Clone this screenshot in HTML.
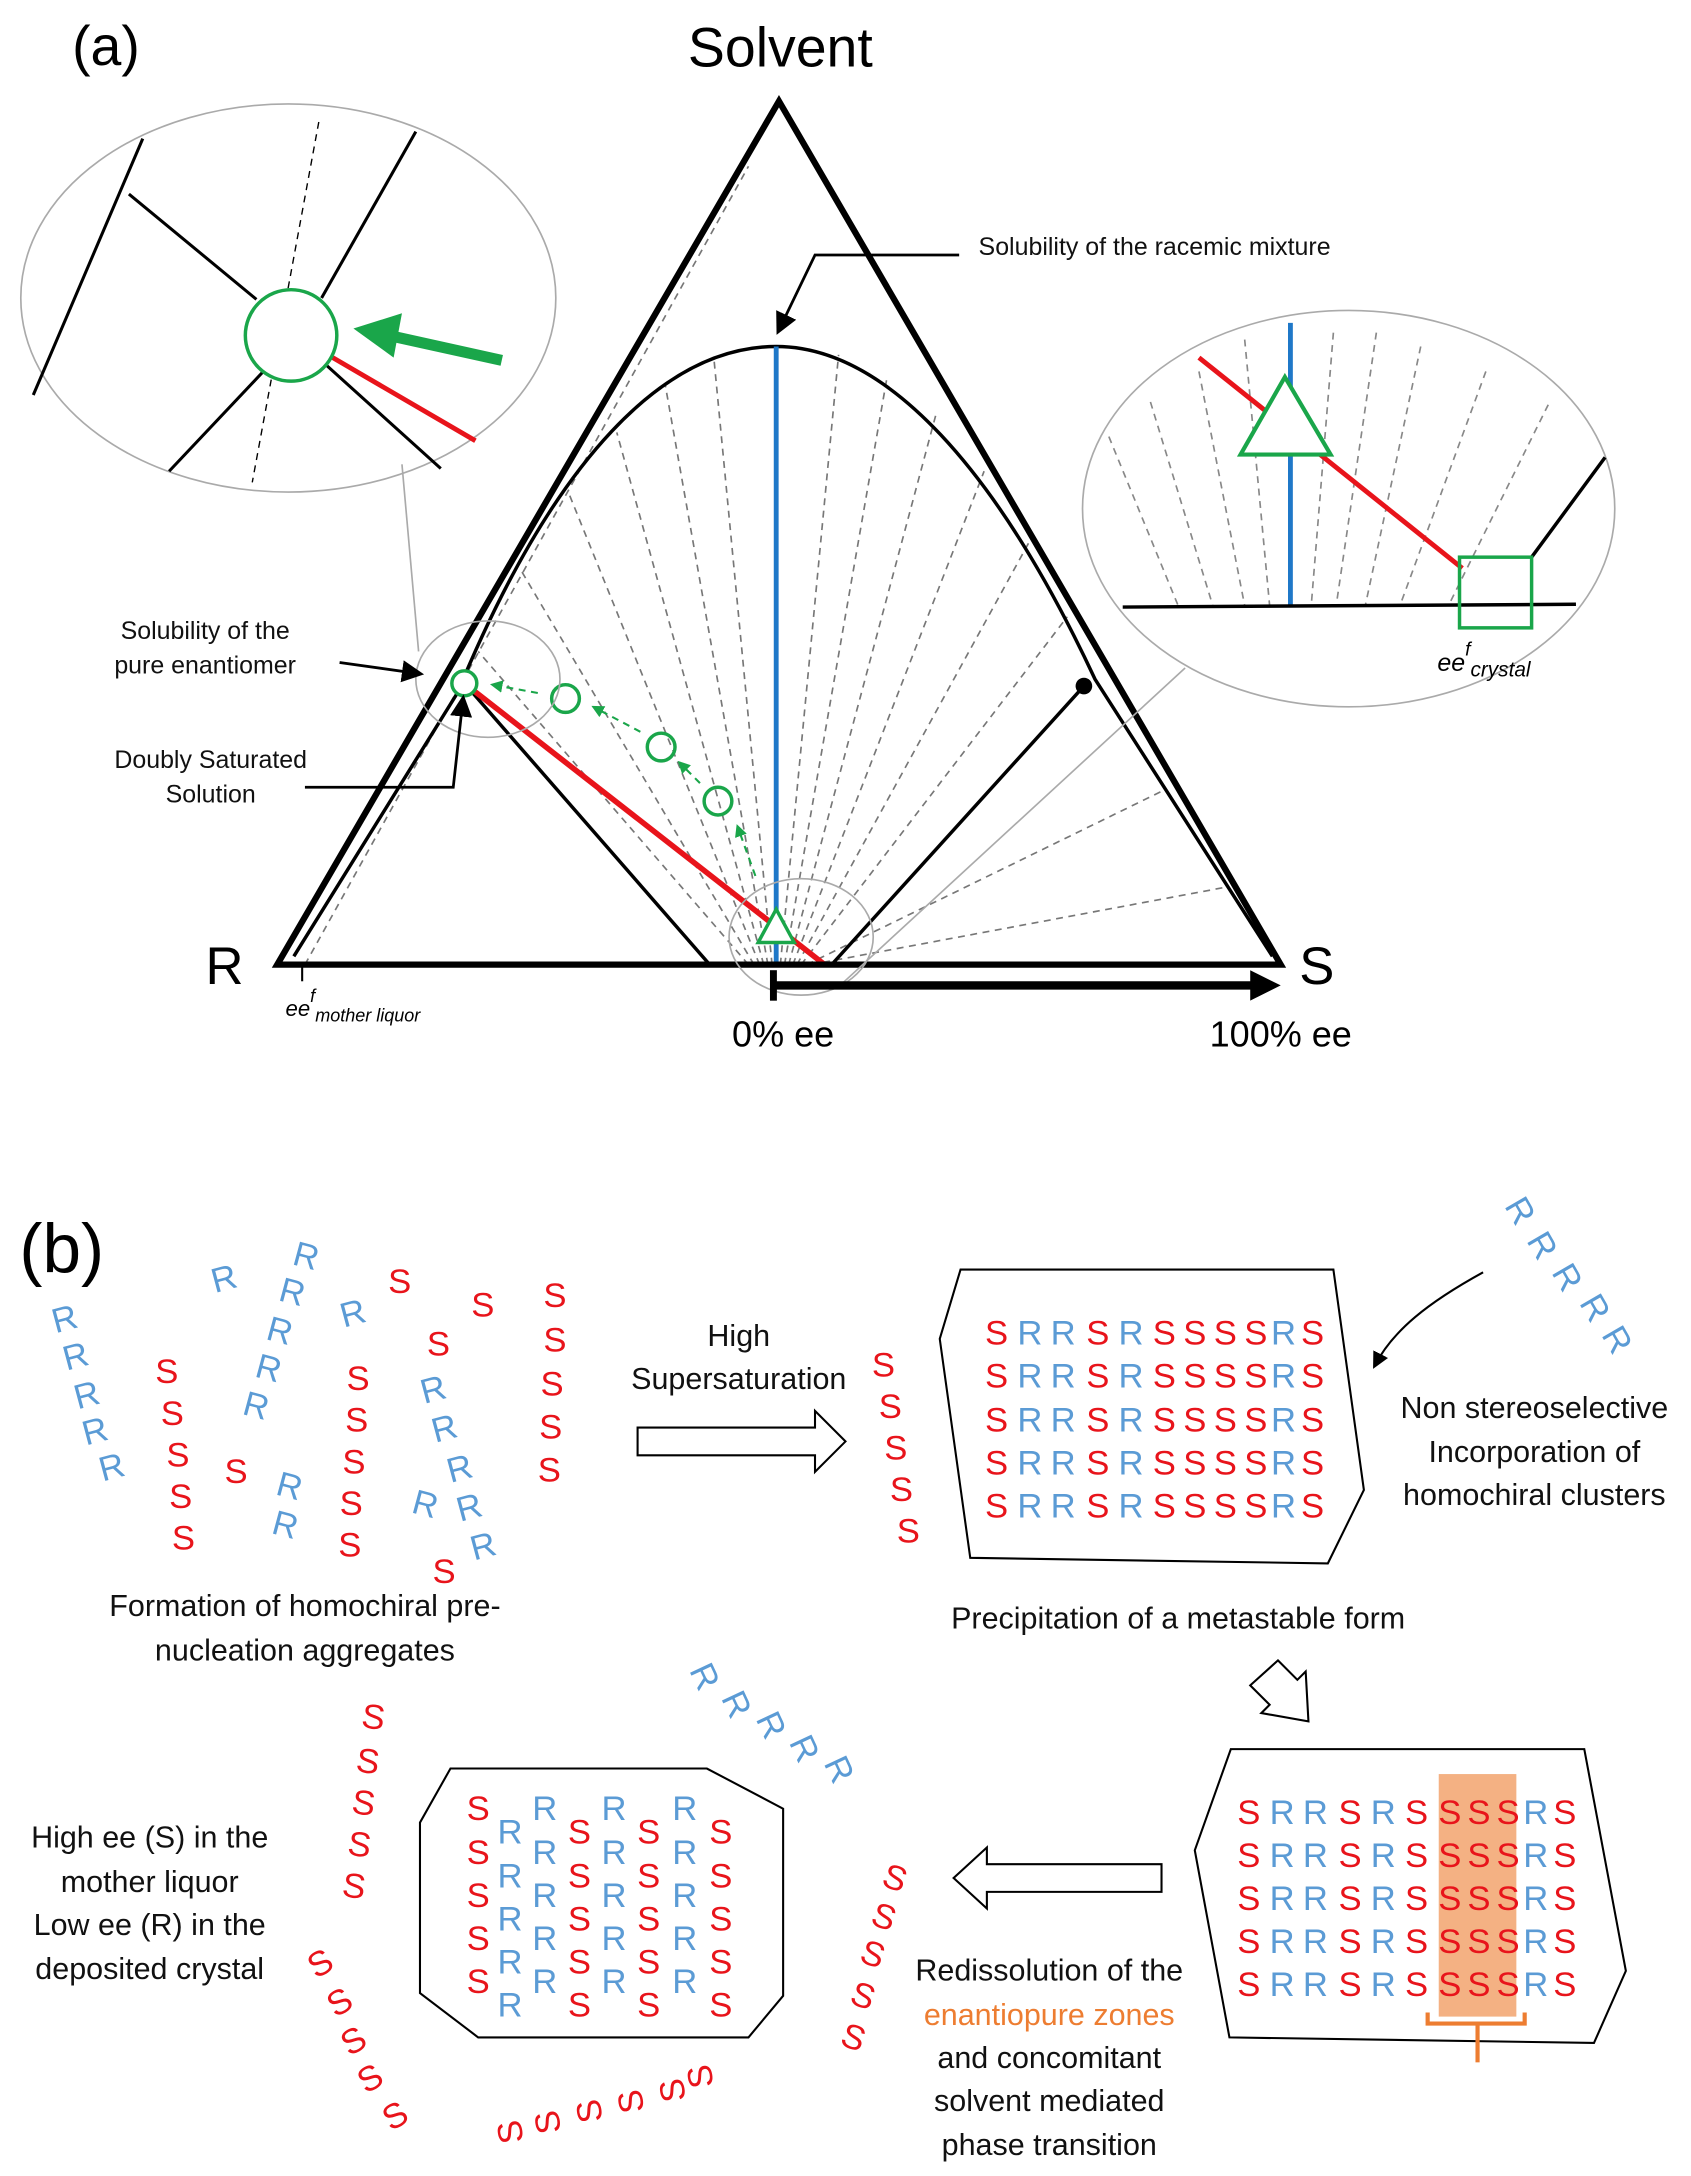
<!DOCTYPE html>
<html><head><meta charset="utf-8"><style>
html,body{margin:0;padding:0;background:#fff;}
svg{display:block}
text{font-family:"Liberation Sans",sans-serif;}
.S{fill:#e8141b;font-size:25px}
.R{fill:#5b9bd5;font-size:25px}
.t{font-size:22px;fill:#111;text-anchor:middle}
.s{font-size:18px;fill:#111}
</style></head><body>
<svg width="1691" height="2176" viewBox="0 0 1220 1570" preserveAspectRatio="none" xmlns="http://www.w3.org/2000/svg">
<defs>
<marker id="ah" markerWidth="8" markerHeight="8" refX="6" refY="4" orient="auto" markerUnits="strokeWidth"><path d="M0,0 L8,4 L0,8 z" fill="#000"/></marker>
<marker id="ahg" markerWidth="6" markerHeight="6" refX="5" refY="3" orient="auto" markerUnits="strokeWidth"><path d="M0,0 L6,3 L0,6 z" fill="#1aa64a"/></marker>
</defs>
<text x="52" y="47" font-size="40">(a)</text>
<text x="563" y="48" font-size="40" text-anchor="middle">Solvent</text>
<g stroke="#777" stroke-width="1.2" stroke-dasharray="5,4" fill="none">
<line x1="540" y1="696" x2="345" y2="470"/><line x1="544" y1="696" x2="375" y2="410"/>
<line x1="548" y1="696" x2="410" y2="355"/><line x1="551" y1="696" x2="445" y2="312"/>
<line x1="554" y1="696" x2="480" y2="278"/><line x1="557" y1="696" x2="515" y2="258"/>
<line x1="563" y1="696" x2="605" y2="256"/><line x1="566" y1="696" x2="640" y2="272"/>
<line x1="569" y1="696" x2="675" y2="300"/><line x1="572" y1="696" x2="710" y2="340"/>
<line x1="575" y1="696" x2="742" y2="392"/><line x1="578" y1="696" x2="770" y2="445"/>
<line x1="582" y1="696" x2="840" y2="570"/><line x1="585" y1="696" x2="885" y2="640"/>
<line x1="220" y1="696" x2="540" y2="120"/>
</g>
<path d="M212 690 L330 500 C400 330 480 250 560 250 C640 250 720 340 790 490 L918 690" fill="none" stroke="#000" stroke-width="2.5"/>
<line x1="335" y1="493" x2="512" y2="696" stroke="#000" stroke-width="2.5"/>
<line x1="782" y1="495" x2="600" y2="696" stroke="#000" stroke-width="2.5"/>
<circle cx="782" cy="495" r="6" fill="#000"/>
<line x1="560" y1="250" x2="560" y2="696" stroke="#1f78c8" stroke-width="3.5"/>
<line x1="335" y1="493" x2="595" y2="696" stroke="#e8141b" stroke-width="4"/>
<path d="M562 73 L200 696 L924 696 Z" fill="none" stroke="#000" stroke-width="4.5"/>
<line x1="218" y1="696" x2="218" y2="708" stroke="#000" stroke-width="1.5"/>
<g fill="none" stroke="#1aa64a" stroke-width="2.5">
<circle cx="335" cy="493" r="9" fill="#fff"/><circle cx="408" cy="504" r="10"/><circle cx="477" cy="539" r="10"/><circle cx="518" cy="578" r="10"/>
<path d="M547 680 L560 656 L573 680 Z" fill="#fff"/>
</g>
<g stroke="#1aa64a" stroke-width="1.5" stroke-dasharray="5,4" fill="none">
<line x1="388" y1="500" x2="355" y2="494" marker-end="url(#ahg)"/>
<line x1="462" y1="528" x2="428" y2="510" marker-end="url(#ahg)"/>
<line x1="505" y1="565" x2="490" y2="550" marker-end="url(#ahg)"/>
<line x1="545" y1="632" x2="532" y2="596" marker-end="url(#ahg)"/>
</g>
<g fill="none" stroke="#aaa" stroke-width="1.2">
<ellipse cx="352" cy="490" rx="52" ry="42"/>
<ellipse cx="578" cy="676" rx="52" ry="42"/>
<line x1="302" y1="470" x2="290" y2="335"/>
<line x1="605" y1="712" x2="855" y2="482"/>
<ellipse cx="208" cy="215" rx="193" ry="140"/>
<ellipse cx="973" cy="367" rx="192" ry="143"/>
</g>
<line x1="558" y1="700" x2="558" y2="722" stroke="#000" stroke-width="5"/>
<line x1="558" y1="711" x2="905" y2="711" stroke="#000" stroke-width="6"/>
<path d="M902 700 L924 711 L902 722 Z" fill="#000"/>
<text x="162" y="710" font-size="38" text-anchor="middle">R</text>
<text x="950" y="710" font-size="38" text-anchor="middle">S</text>
<text x="565" y="755" font-size="26" text-anchor="middle">0% ee</text>
<text x="924" y="755" font-size="26" text-anchor="middle">100% ee</text>
<text x="206" y="733" font-size="16" font-family="Liberation Serif" font-style="italic">ee<tspan dy="-10" font-size="13">f</tspan><tspan dy="14" font-size="13">mother liquor</tspan></text>
<text x="706" y="184" class="s">Solubility of the racemic mixture</text>
<polyline points="692,184 588,184 562,238" fill="none" stroke="#000" stroke-width="2" marker-end="url(#ah)"/>
<text x="148" y="461" class="s" text-anchor="middle">Solubility of the</text>
<text x="148" y="486" class="s" text-anchor="middle">pure enantiomer</text>
<line x1="245" y1="478" x2="302" y2="486" stroke="#000" stroke-width="2" marker-end="url(#ah)"/>
<text x="152" y="554" class="s" text-anchor="middle">Doubly Saturated</text>
<text x="152" y="579" class="s" text-anchor="middle">Solution</text>
<polyline points="220,568 327,568 334,505" fill="none" stroke="#000" stroke-width="2" marker-end="url(#ah)"/>
<g stroke="#000" stroke-width="2.2" fill="none">
<line x1="103" y1="100" x2="24" y2="285"/>
<line x1="93" y1="140" x2="185" y2="216"/>
<line x1="300" y1="95" x2="232" y2="215"/>
<line x1="190" y1="268" x2="122" y2="340"/>
<line x1="236" y1="264" x2="318" y2="338"/>
</g>
<line x1="230" y1="88" x2="182" y2="348" stroke="#000" stroke-width="1" stroke-dasharray="5,4"/>
<line x1="240" y1="258" x2="343" y2="318" stroke="#e8141b" stroke-width="3.5"/>
<circle cx="210" cy="242" r="33" fill="#fff" stroke="#1aa64a" stroke-width="2.5"/>
<line x1="362" y1="260" x2="285" y2="243" stroke="#1aa64a" stroke-width="8"/>
<path d="M255 237 L290 226 L284 258 Z" fill="#1aa64a"/>
<g stroke="#888" stroke-width="1.2" stroke-dasharray="5,4">
<line x1="800" y1="315" x2="850" y2="437"/><line x1="830" y1="290" x2="875" y2="437"/>
<line x1="865" y1="268" x2="898" y2="437"/><line x1="898" y1="245" x2="916" y2="437"/>
<line x1="962" y1="240" x2="946" y2="437"/><line x1="993" y1="240" x2="964" y2="437"/>
<line x1="1025" y1="250" x2="985" y2="437"/><line x1="1072" y1="268" x2="1010" y2="437"/>
<line x1="1117" y1="292" x2="1045" y2="437"/>
</g>
<line x1="931" y1="233" x2="931" y2="437" stroke="#1f78c8" stroke-width="3.5"/>
<line x1="865" y1="258" x2="1055" y2="410" stroke="#e8141b" stroke-width="3.5"/>
<line x1="810" y1="438" x2="1137" y2="436" stroke="#000" stroke-width="2.5"/>
<line x1="1105" y1="402" x2="1158" y2="330" stroke="#000" stroke-width="2.5"/>
<path d="M927 272 L895 328 L960 328 Z" fill="#fff" stroke="#1aa64a" stroke-width="3"/>
<rect x="1053" y="402" width="52" height="51" fill="none" stroke="#1aa64a" stroke-width="2.5"/>
<text x="1037" y="484" font-size="18" font-family="Liberation Serif" font-style="italic">ee<tspan dy="-11" font-size="14">f</tspan><tspan dy="15" font-size="15">crystal</tspan></text>

<text x="14" y="918" font-size="50">(b)</text>
<g class="R">
<text transform="translate(40,962) rotate(-15)">R</text><text transform="translate(48,989) rotate(-15)">R</text><text transform="translate(56,1017) rotate(-15)">R</text><text transform="translate(62,1043) rotate(-15)">R</text><text transform="translate(74,1069) rotate(-15)">R</text>
<text transform="translate(210,912) rotate(15)">R</text><text transform="translate(200,938) rotate(15)">R</text><text transform="translate(191,966) rotate(15)">R</text><text transform="translate(183,993) rotate(15)">R</text><text transform="translate(174,1020) rotate(15)">R</text>
<text transform="translate(155,933) rotate(-15)">R</text><text transform="translate(248,958) rotate(-15)">R</text>
<text transform="translate(198,1078) rotate(15)">R</text><text transform="translate(195,1106) rotate(15)">R</text>
<text transform="translate(306,1013) rotate(-15)">R</text><text transform="translate(314,1041) rotate(-15)">R</text><text transform="translate(325,1070) rotate(-15)">R</text><text transform="translate(332,1098) rotate(-15)">R</text><text transform="translate(342,1126) rotate(-15)">R</text>
<text transform="translate(296,1091) rotate(15)">R</text>
<text transform="translate(1085,870) rotate(60)">R</text><text transform="translate(1101,895) rotate(60)">R</text><text transform="translate(1119,918) rotate(60)">R</text><text transform="translate(1139,940) rotate(60)">R</text><text transform="translate(1155,963) rotate(60)">R</text>
<text transform="translate(497,1205) rotate(65)">R</text><text transform="translate(520,1225) rotate(65)">R</text><text transform="translate(545,1240) rotate(65)">R</text><text transform="translate(569,1257) rotate(65)">R</text><text transform="translate(594,1272) rotate(65)">R</text>
</g>
<g class="S">
<text x="112" y="998">S</text><text x="116" y="1028">S</text><text x="120" y="1058">S</text><text x="122" y="1088">S</text><text x="124" y="1118">S</text>
<text x="162" y="1070">S</text><text x="280" y="933">S</text><text x="340" y="950">S</text><text x="308" y="978">S</text>
<text x="250" y="1003">S</text><text x="249" y="1033">S</text><text x="247" y="1063">S</text><text x="245" y="1093">S</text><text x="244" y="1123">S</text>
<text x="312" y="1142">S</text>
<text x="392" y="943">S</text><text x="392" y="975">S</text><text x="390" y="1007">S</text><text x="389" y="1038">S</text><text x="388" y="1069">S</text>
<text x="629" y="993">S</text><text x="634" y="1023">S</text><text x="638" y="1053">S</text><text x="642" y="1083">S</text><text x="647" y="1113">S</text>
<text transform="translate(260,1246) rotate(8)">S</text><text transform="translate(256,1278) rotate(8)">S</text><text transform="translate(253,1308) rotate(8)">S</text><text transform="translate(250,1338) rotate(8)">S</text><text transform="translate(246,1368) rotate(8)">S</text>
<text transform="translate(228,1428) rotate(-30)">S</text><text transform="translate(242,1456) rotate(-30)">S</text><text transform="translate(252,1484) rotate(-30)">S</text><text transform="translate(264,1511) rotate(-30)">S</text><text transform="translate(282,1538) rotate(-30)">S</text>
<text transform="translate(378,1545) rotate(-100)">S</text><text transform="translate(405,1538) rotate(-100)">S</text><text transform="translate(435,1530) rotate(-100)">S</text><text transform="translate(465,1523) rotate(-100)">S</text><text transform="translate(495,1515) rotate(-100)">S</text><text transform="translate(515,1505) rotate(-100)">S</text>
<text transform="translate(635,1360) rotate(20)">S</text><text transform="translate(627,1388) rotate(20)">S</text><text transform="translate(619,1415) rotate(20)">S</text><text transform="translate(612,1445) rotate(20)">S</text><text transform="translate(605,1475) rotate(20)">S</text>
</g>
<!-- crystal 1 -->
<path d="M693 916 L962 916 L984 1075 L958 1128 L700 1124 L678 966 Z" fill="none" stroke="#000" stroke-width="1.5"/>
<g font-size="25" text-anchor="middle">
<g fill="#e8141b">
<text x="719" y="970">S</text><text x="792" y="970">S</text><text x="840" y="970">S</text><text x="862" y="970">S</text><text x="884" y="970">S</text><text x="906" y="970">S</text><text x="947" y="970">S</text>
<text x="719" y="1001">S</text><text x="792" y="1001">S</text><text x="840" y="1001">S</text><text x="862" y="1001">S</text><text x="884" y="1001">S</text><text x="906" y="1001">S</text><text x="947" y="1001">S</text>
<text x="719" y="1033">S</text><text x="792" y="1033">S</text><text x="840" y="1033">S</text><text x="862" y="1033">S</text><text x="884" y="1033">S</text><text x="906" y="1033">S</text><text x="947" y="1033">S</text>
<text x="719" y="1064">S</text><text x="792" y="1064">S</text><text x="840" y="1064">S</text><text x="862" y="1064">S</text><text x="884" y="1064">S</text><text x="906" y="1064">S</text><text x="947" y="1064">S</text>
<text x="719" y="1095">S</text><text x="792" y="1095">S</text><text x="840" y="1095">S</text><text x="862" y="1095">S</text><text x="884" y="1095">S</text><text x="906" y="1095">S</text><text x="947" y="1095">S</text>
</g>
<g fill="#5b9bd5">
<text x="743" y="970">R</text><text x="767" y="970">R</text><text x="816" y="970">R</text><text x="926" y="970">R</text>
<text x="743" y="1001">R</text><text x="767" y="1001">R</text><text x="816" y="1001">R</text><text x="926" y="1001">R</text>
<text x="743" y="1033">R</text><text x="767" y="1033">R</text><text x="816" y="1033">R</text><text x="926" y="1033">R</text>
<text x="743" y="1064">R</text><text x="767" y="1064">R</text><text x="816" y="1064">R</text><text x="926" y="1064">R</text>
<text x="743" y="1095">R</text><text x="767" y="1095">R</text><text x="816" y="1095">R</text><text x="926" y="1095">R</text>
</g></g>
<!-- crystal 2 -->
<path d="M888 1262 L1143 1262 L1173 1422 L1150 1474 L887 1470 L862 1335 Z" fill="none" stroke="#000" stroke-width="1.5"/>
<rect x="1038" y="1280" width="56" height="175" fill="#f4b183"/>
<polyline points="1030,1452 1030,1460 1100,1460 1100,1452" fill="none" stroke="#ed7d31" stroke-width="3"/>
<line x1="1066" y1="1460" x2="1066" y2="1488" stroke="#ed7d31" stroke-width="3"/>
<g font-size="25" text-anchor="middle">
<g fill="#e8141b">
<text x="901" y="1316">S</text><text x="974" y="1316">S</text><text x="1022" y="1316">S</text><text x="1046" y="1316">S</text><text x="1067" y="1316">S</text><text x="1088" y="1316">S</text><text x="1129" y="1316">S</text>
<text x="901" y="1347">S</text><text x="974" y="1347">S</text><text x="1022" y="1347">S</text><text x="1046" y="1347">S</text><text x="1067" y="1347">S</text><text x="1088" y="1347">S</text><text x="1129" y="1347">S</text>
<text x="901" y="1378">S</text><text x="974" y="1378">S</text><text x="1022" y="1378">S</text><text x="1046" y="1378">S</text><text x="1067" y="1378">S</text><text x="1088" y="1378">S</text><text x="1129" y="1378">S</text>
<text x="901" y="1409">S</text><text x="974" y="1409">S</text><text x="1022" y="1409">S</text><text x="1046" y="1409">S</text><text x="1067" y="1409">S</text><text x="1088" y="1409">S</text><text x="1129" y="1409">S</text>
<text x="901" y="1440">S</text><text x="974" y="1440">S</text><text x="1022" y="1440">S</text><text x="1046" y="1440">S</text><text x="1067" y="1440">S</text><text x="1088" y="1440">S</text><text x="1129" y="1440">S</text>
</g>
<g fill="#5b9bd5">
<text x="925" y="1316">R</text><text x="949" y="1316">R</text><text x="998" y="1316">R</text><text x="1108" y="1316">R</text>
<text x="925" y="1347">R</text><text x="949" y="1347">R</text><text x="998" y="1347">R</text><text x="1108" y="1347">R</text>
<text x="925" y="1378">R</text><text x="949" y="1378">R</text><text x="998" y="1378">R</text><text x="1108" y="1378">R</text>
<text x="925" y="1409">R</text><text x="949" y="1409">R</text><text x="998" y="1409">R</text><text x="1108" y="1409">R</text>
<text x="925" y="1440">R</text><text x="949" y="1440">R</text><text x="998" y="1440">R</text><text x="1108" y="1440">R</text>
</g></g>
<!-- crystal 3 -->
<path d="M325 1276 L510 1276 L565 1305 L565 1440 L540 1470 L345 1470 L303 1438 L303 1315 Z" fill="none" stroke="#000" stroke-width="1.5"/>
<g font-size="25" text-anchor="middle">
<g fill="#e8141b"><text x="345" y="1313">S</text><text x="345" y="1345">S</text><text x="345" y="1376">S</text><text x="345" y="1407">S</text><text x="345" y="1438">S</text>
<text x="418" y="1330">S</text><text x="418" y="1362">S</text><text x="418" y="1393">S</text><text x="418" y="1424">S</text><text x="418" y="1455">S</text>
<text x="468" y="1330">S</text><text x="468" y="1362">S</text><text x="468" y="1393">S</text><text x="468" y="1424">S</text><text x="468" y="1455">S</text>
<text x="520" y="1330">S</text><text x="520" y="1362">S</text><text x="520" y="1393">S</text><text x="520" y="1424">S</text><text x="520" y="1455">S</text></g>
<g fill="#5b9bd5"><text x="368" y="1330">R</text><text x="368" y="1362">R</text><text x="368" y="1393">R</text><text x="368" y="1424">R</text><text x="368" y="1455">R</text>
<text x="393" y="1313">R</text><text x="393" y="1345">R</text><text x="393" y="1376">R</text><text x="393" y="1407">R</text><text x="393" y="1438">R</text>
<text x="443" y="1313">R</text><text x="443" y="1345">R</text><text x="443" y="1376">R</text><text x="443" y="1407">R</text><text x="443" y="1438">R</text>
<text x="494" y="1313">R</text><text x="494" y="1345">R</text><text x="494" y="1376">R</text><text x="494" y="1407">R</text><text x="494" y="1438">R</text></g>
</g>
<path d="M460 1030 L588 1030 L588 1018 L610 1040 L588 1062 L588 1050 L460 1050 Z" fill="#fff" stroke="#000" stroke-width="1.5"/>
<path d="M838 1345 L712 1345 L712 1333 L688 1355 L712 1377 L712 1365 L838 1365 Z" fill="#fff" stroke="#000" stroke-width="1.5"/>
<path d="M922 1198 L936 1212 L942 1206 L944 1242 L910 1236 L916 1230 L902 1216 Z" fill="#fff" stroke="#000" stroke-width="1.5"/>
<path d="M1070 918 C1030 940 1005 960 992 985" fill="none" stroke="#000" stroke-width="1.5" marker-end="url(#ah)"/>
<text class="t" x="533" y="971">High</text>
<text class="t" x="533" y="1002">Supersaturation</text>
<text class="t" x="1107" y="1023">Non stereoselective</text>
<text class="t" x="1107" y="1055">Incorporation of</text>
<text class="t" x="1107" y="1086">homochiral clusters</text>
<text class="t" x="220" y="1166">Formation of homochiral pre-</text>
<text class="t" x="220" y="1198">nucleation aggregates</text>
<text class="t" x="850" y="1175">Precipitation of a metastable form</text>
<text class="t" x="108" y="1333">High ee (S) in the</text>
<text class="t" x="108" y="1365">mother liquor</text>
<text class="t" x="108" y="1396">Low ee (R) in the</text>
<text class="t" x="108" y="1428">deposited crystal</text>
<text class="t" x="757" y="1429">Redissolution of the</text>
<text class="t" x="757" y="1461" style="fill:#ed7d31">enantiopure zones</text>
<text class="t" x="757" y="1492">and concomitant</text>
<text class="t" x="757" y="1523">solvent mediated</text>
<text class="t" x="757" y="1555">phase transition</text>
</svg>
</body></html>
